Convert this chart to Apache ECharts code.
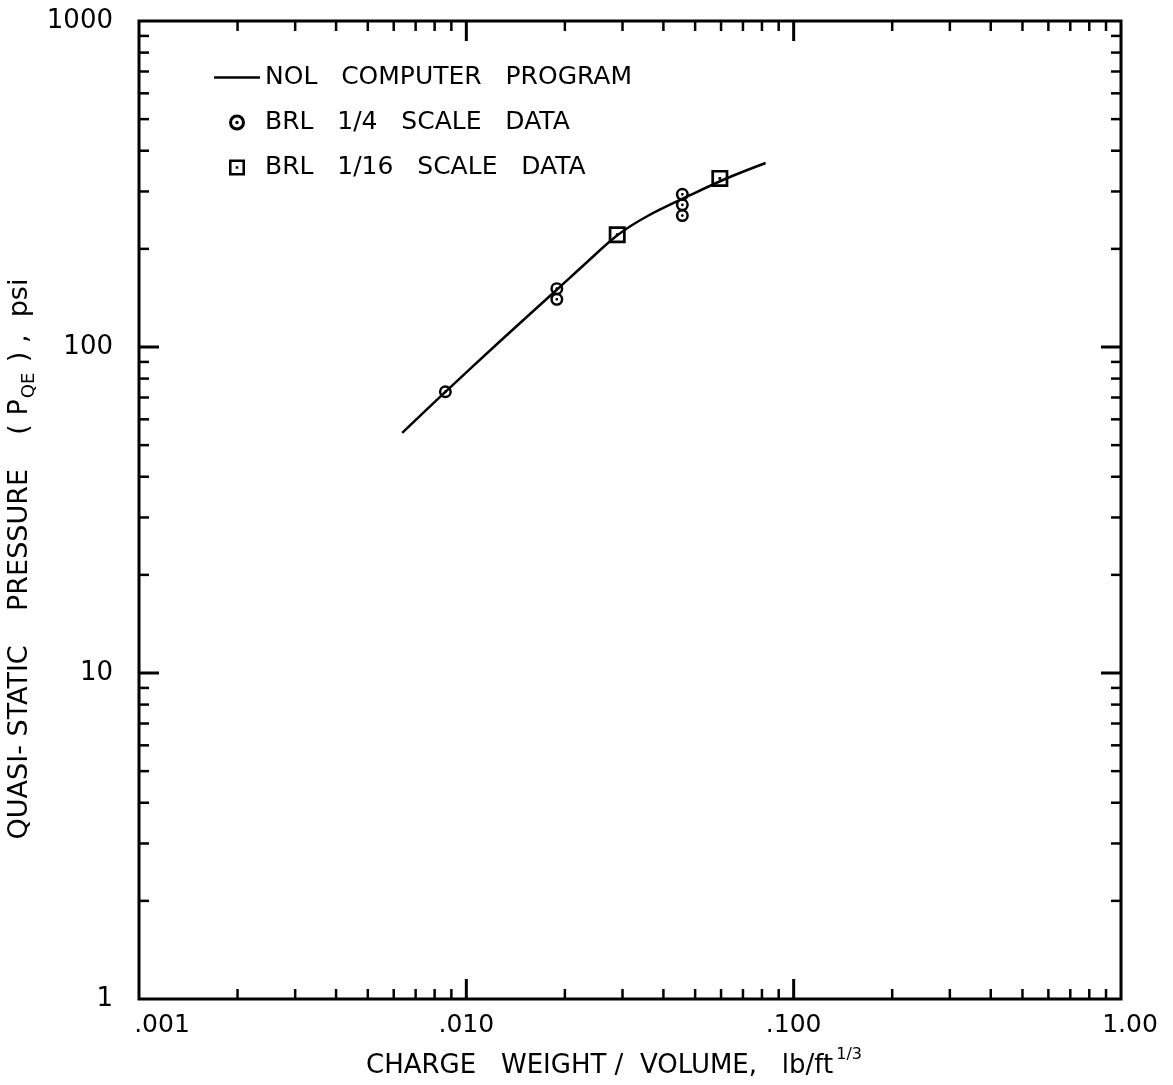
<!DOCTYPE html>
<html>
<head>
<meta charset="utf-8">
<script src="https://cdn.jsdelivr.net/npm/echarts@6/dist/echarts.min.js"></script>
<style>
  html, body { margin: 0; padding: 0; background: #fff; }
  #chart { width: 1173px; height: 1085px; }
</style>
</head>
<body>
<div id="chart"></div>
<script>
// NOL computer program curve (charge weight / volume vs. quasi-static pressure)
const curveX = [0.00637, 0.00863, 0.0127, 0.0190, 0.0234, 0.0290, 0.0358, 0.0484, 0.0628, 0.0821];
const curveY = [54.5, 72.8, 104.3, 150.6, 182.3, 220.6, 252.3, 292.6, 329.9, 366.8];

// BRL 1/4 scale data
const quarterX = [0.00863, 0.0189, 0.0189, 0.0457, 0.0457, 0.0457];
const quarterY = [72.9, 151, 140, 294, 273, 253];

// BRL 1/16 scale data
const sixteenthX = [0.0289, 0.0595];
const sixteenthY = [221, 329];

// Axis tick values (log decades)
const xMajorTicks = [0.01, 0.1];
const xMinorTicks = [0.002, 0.003, 0.004, 0.005, 0.006, 0.007, 0.008, 0.009,
                     0.02, 0.03, 0.04, 0.05, 0.06, 0.07, 0.08, 0.09,
                     0.2, 0.3, 0.4, 0.5, 0.6, 0.7, 0.8, 0.9];
const yMajorTicks = [10, 100];
const yMinorTicks = [2, 3, 4, 5, 6, 7, 8, 9,
                     20, 30, 40, 50, 60, 70, 80, 90,
                     200, 300, 400, 500, 600, 700, 800, 900];
const xTickLabels = { '-3': '{first|.001}', '-2': '.010', '-1': '.100', '0': '{last|1.00}' };

const seriesNames = ['NOL   COMPUTER   PROGRAM', 'BRL   1/4   SCALE   DATA', 'BRL   1/16   SCALE   DATA'];

const FONT = 'DejaVu Sans';
const INK = '#000';

// ring with centre dot; square with centre dot (filled paths, nonzero winding)
const ringPath = 'path://M10 5A5 5 0 1 1 0 5A5 5 0 1 1 10 5ZM8.1 5A3.1 3.1 0 1 0 1.9 5A3.1 3.1 0 1 0 8.1 5ZM6.1 5A1.1 1.1 0 1 1 3.9 5A1.1 1.1 0 1 1 6.1 5Z';
const boxPath = 'path://M0 0H10V10H0ZM1.6 1.6V8.4H8.4V1.6ZM4.2 4.2H5.8V5.8H4.2Z';
const dashPath = 'path://M0 0H46V2.6H0Z';

const zip = (xs, ys) => xs.map((x, i) => [x, ys[i]]);

const xTickData = xMajorTicks.map(v => [v, 1, 1]).concat(xMinorTicks.map(v => [v, 1, 0]));
const yTickData = yMajorTicks.map(v => [0.001, v, 1]).concat(yMinorTicks.map(v => [0.001, v, 0]));

function tickStyle(major) {
  return { stroke: INK, lineWidth: major ? 3 : 2.5 };
}

function renderXTick(params, api) {
  const v = api.value(0), major = api.value(2);
  const b = api.coord([v, 1]);
  const t = api.coord([v, 1000]);
  const len = major ? 20 : 10;
  return {
    type: 'group',
    children: [
      { type: 'line', shape: { x1: b[0], y1: b[1], x2: b[0], y2: b[1] - len }, style: tickStyle(major) },
      { type: 'line', shape: { x1: t[0], y1: t[1], x2: t[0], y2: t[1] + len }, style: tickStyle(major) }
    ]
  };
}

function renderYTick(params, api) {
  const v = api.value(1), major = api.value(2);
  const l = api.coord([0.001, v]);
  const r = api.coord([1, v]);
  const len = major ? 20 : 10;
  return {
    type: 'group',
    children: [
      { type: 'line', shape: { x1: l[0], y1: l[1], x2: l[0] + len, y2: l[1] }, style: tickStyle(major) },
      { type: 'line', shape: { x1: r[0], y1: r[1], x2: r[0] - len, y2: r[1] }, style: tickStyle(major) }
    ]
  };
}

const chart = echarts.init(document.getElementById('chart'), null, { renderer: 'canvas' });

chart.setOption({
  backgroundColor: '#fff',
  animation: false,
  textStyle: { fontFamily: FONT, color: INK },
  grid: {
    left: 139, top: 21, right: 52, bottom: 86,
    show: true, borderColor: INK, borderWidth: 3, backgroundColor: 'transparent'
  },
  xAxis: {
    type: 'log', logBase: 10, min: 0.001, max: 1,
    axisLine: { show: false },
    axisTick: { show: false },
    splitLine: { show: false },
    minorTick: { show: false },
    axisLabel: {
      margin: 14, fontSize: 25, color: INK, fontFamily: FONT,
      formatter: v => xTickLabels[String(Math.round(Math.log10(v)))] || '',
      rich: {
        first: { fontSize: 25, fontFamily: FONT, color: INK, padding: [0, 0, 0, 46] },
        last: { fontSize: 25, fontFamily: FONT, color: INK, padding: [0, 0, 0, 18] }
      }
    }
  },
  yAxis: {
    type: 'log', logBase: 10, min: 1, max: 1000,
    axisLine: { show: false },
    axisTick: { show: false },
    splitLine: { show: false },
    minorTick: { show: false },
    axisLabel: {
      margin: 26, fontSize: 26, color: INK, fontFamily: FONT,
      formatter: v => String(Math.round(v))
    }
  },
  legend: {
    orient: 'vertical',
    left: 209, top: 60,
    itemWidth: 46, itemHeight: 16, itemGap: 20,
    selectedMode: false,
    textStyle: { fontSize: 25, color: INK, fontFamily: FONT },
    data: [
      { name: seriesNames[0], icon: dashPath },
      { name: seriesNames[1] },
      { name: seriesNames[2] }
    ]
  },
  graphic: [
    {
      type: 'text', x: 614, y: 1063,
      style: {
        text: '{m|CHARGE   WEIGHT /  VOLUME,   lb/ft}{sup|1/3}',
        align: 'center', verticalAlign: 'middle', fill: INK,
        rich: {
          m: { fontSize: 26, fontFamily: FONT, fill: INK, verticalAlign: 'bottom' },
          sup: { fontSize: 16, fontFamily: FONT, fill: INK, verticalAlign: 'top', padding: [0, 0, 16, 3] }
        }
      }
    },
    {
      type: 'text', x: 22, y: 559, rotation: Math.PI / 2,
      style: {
        text: '{m|QUASI- STATIC    PRESSURE    ( P}{sub|QE}{m| ) ,  psi}',
        align: 'center', verticalAlign: 'middle', fill: INK,
        rich: {
          m: { fontSize: 27, fontFamily: FONT, fill: INK, verticalAlign: 'top' },
          sub: { fontSize: 18, fontFamily: FONT, fill: INK, verticalAlign: 'bottom', padding: [14, 2, 0, 1] }
        }
      }
    }
  ],
  series: [
    {
      name: seriesNames[0],
      type: 'line',
      data: zip(curveX, curveY),
      smooth: 0.35,
      showSymbol: false,
      symbol: 'none',
      symbolKeepAspect: true,
      lineStyle: { color: INK, width: 2.5 },
      itemStyle: { color: INK },
      z: 3
    },
    {
      name: seriesNames[1],
      type: 'scatter',
      data: zip(quarterX, quarterY),
      symbol: ringPath,
      symbolSize: 13,
      symbolKeepAspect: true,
      itemStyle: { color: INK, opacity: 1 },
      z: 4
    },
    {
      name: seriesNames[2],
      type: 'scatter',
      data: zip(sixteenthX, sixteenthY),
      symbol: boxPath,
      symbolSize: 17,
      symbolKeepAspect: true,
      itemStyle: { color: INK, opacity: 1 },
      z: 4
    },
    {
      type: 'custom',
      data: xTickData,
      renderItem: renderXTick,
      clip: false,
      silent: true,
      z: 5
    },
    {
      type: 'custom',
      data: yTickData,
      renderItem: renderYTick,
      clip: false,
      silent: true,
      z: 5
    }
  ]
});
</script>
</body>
</html>
